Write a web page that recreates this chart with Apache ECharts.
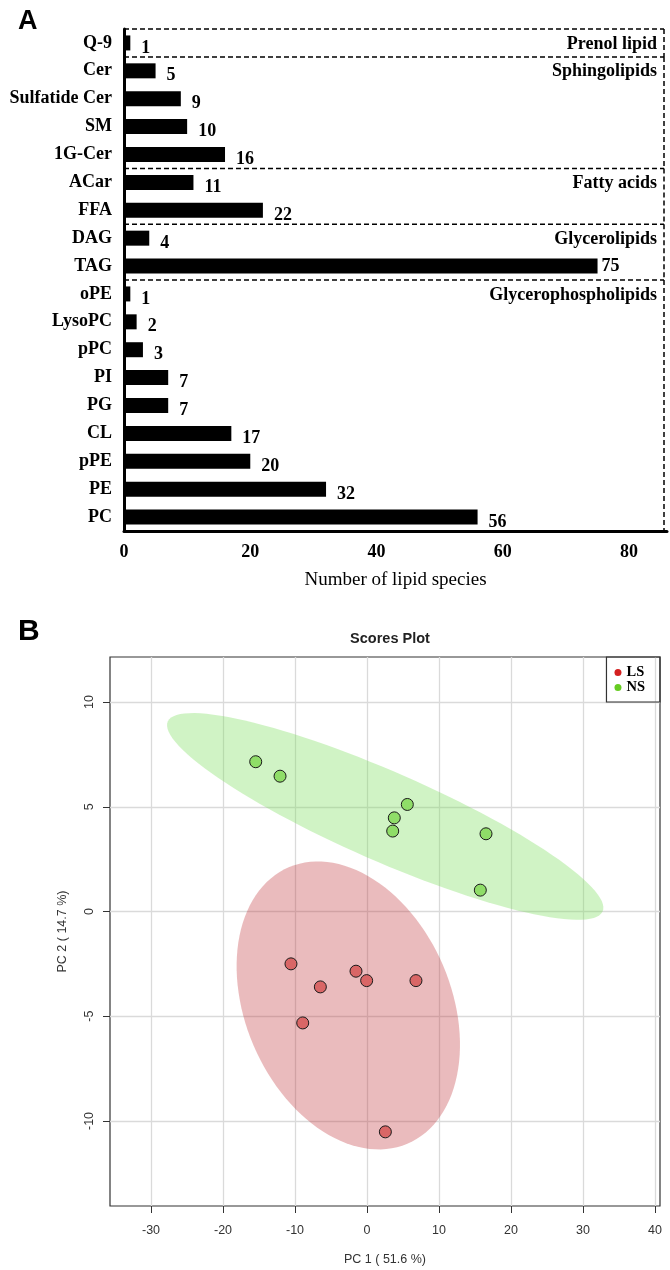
<!DOCTYPE html>
<html><head><meta charset="utf-8">
<script src="https://cdn.jsdelivr.net/npm/echarts@6/dist/echarts.min.js"></script>
<style>html,body{margin:0;padding:0;background:#fff}#c{width:670px;height:1270px}</style>
</head><body><div id="c"></div>
<script>
// ---------- Panel A data ----------
const categories = ['Q-9','Cer','Sulfatide Cer','SM','1G-Cer','ACar','FFA','DAG','TAG','oPE','LysoPC','pPC','PI','PG','CL','pPE','PE','PC'];
const speciesCounts = [1,5,9,10,16,11,22,4,75,1,2,3,7,7,17,20,32,56];
const groupNames = ['Prenol lipid','Sphingolipids','Fatty acids','Glycerolipids','Glycerophospholipids'];
const groupSizes = [1,4,2,2,9];
const countTicks = [0,20,40,60,80];

// ---------- Panel B data ----------
const lsPC1 = [-10.56,-6.48,-8.93,-1.53,-0.05,6.80,2.55];
const lsPC2 = [-2.50,-3.60,-5.32,-2.85,-3.30,-3.30,-10.52];
const nsPC1 = [-15.46,-12.08,5.60,3.79,3.57,16.53,15.74];
const nsPC2 = [7.15,6.46,5.11,4.47,3.84,3.71,1.02];
const pc1Ticks = [-30,-20,-10,0,10,20,30,40];
const pc2Ticks = [-10,-5,0,5,10];

const SERIF = '"Liberation Serif", "Times New Roman", serif';
const SANS = '"Liberation Sans", Arial, sans-serif';

// group start/end indices
const groups = [];
let acc = 0;
groupNames.forEach((g, i) => { groups.push({name: g, start: acc, end: acc + groupSizes[i] - 1}); acc += groupSizes[i]; });

// 95% confidence ellipse from data (as in ellipse::ellipse)
function ellipsePoints(xs, ys, level, n) {
  const m = xs.length;
  const mx = xs.reduce((a, b) => a + b, 0) / m;
  const my = ys.reduce((a, b) => a + b, 0) / m;
  let sxx = 0, syy = 0, sxy = 0;
  for (let i = 0; i < m; i++) { const dx = xs[i] - mx, dy = ys[i] - my; sxx += dx * dx; syy += dy * dy; sxy += dx * dy; }
  sxx /= (m - 1); syy /= (m - 1); sxy /= (m - 1);
  const sx = Math.sqrt(sxx), sy = Math.sqrt(syy), r = sxy / (sx * sy);
  const t = Math.sqrt(-2 * Math.log(1 - level));
  const d = Math.acos(r);
  const pts = [];
  for (let k = 0; k < n; k++) {
    const a = 2 * Math.PI * k / n;
    pts.push([mx + t * sx * Math.cos(a + d / 2), my + t * sy * Math.cos(a - d / 2)]);
  }
  return {pts, mx, my};
}
const lsEll = ellipsePoints(lsPC1, lsPC2, 0.95, 120);
const nsEll = ellipsePoints(nsPC1, nsPC2, 0.95, 120);

function ellipseSeries(name, ell, fill) {
  return {
    type: 'custom', name: name, xAxisIndex: 1, yAxisIndex: 1, z: 1, silent: true, clip: false,
    data: [[ell.mx, ell.my]],
    renderItem: function (params, api) {
      return {type: 'polygon', shape: {points: ell.pts.map(p => api.coord(p))}, style: {fill: fill}};
    }
  };
}

const barData = speciesCounts.map((v, i) => categories[i] === 'TAG'
  ? {value: v, label: {distance: 4, offset: [0, 0]}} : v);

const option = {
  animation: false,
  backgroundColor: '#fff',
  title: [
    {text: 'A', left: 13, top: 3, textStyle: {fontFamily: SANS, fontWeight: 'bold', fontSize: 27, color: '#000'}},
    {text: 'B', left: 13, top: 612, textStyle: {fontFamily: SANS, fontWeight: 'bold', fontSize: 30, color: '#000'}},
    {text: 'Scores Plot', left: 385, top: 626, textAlign: 'center', textStyle: {fontFamily: SANS, fontWeight: 'bold', fontSize: 14.5, color: '#222'}}
  ],
  legend: {
    show: true, orient: 'vertical', right: 10, top: 657,
    borderColor: '#333', borderWidth: 1.2, padding: [8, 15, 7, 8],
    itemWidth: 7, itemHeight: 7, itemGap: 0, icon: 'circle',
    textStyle: {fontFamily: SERIF, fontWeight: 'bold', fontSize: 14.5, color: '#000'},
    data: [
      {name: 'LS', itemStyle: {color: '#d42020', borderWidth: 0}},
      {name: 'NS', itemStyle: {color: '#66cc22', borderWidth: 0}}
    ]
  },
  grid: [
    {left: 124, top: 29, width: 544, height: 502},
    {left: 110, top: 657, width: 550, height: 549, show: true, borderColor: '#333', borderWidth: 1.2, backgroundColor: 'transparent'}
  ],
  xAxis: [
    {
      gridIndex: 0, type: 'value', min: 0, max: 86, interval: 20,
      axisLine: {show: true, onZero: false, lineStyle: {color: '#000', width: 3}},
      axisTick: {show: false}, splitLine: {show: false},
      axisLabel: {
        margin: 12, color: '#000', fontFamily: SERIF, fontWeight: 'bold', fontSize: 18,
        formatter: v => countTicks.indexOf(v) >= 0 ? String(v) : ''
      },
      name: 'Number of lipid species', nameLocation: 'middle', nameGap: 40,
      nameTextStyle: {fontFamily: SERIF, fontSize: 19, color: '#000'}
    },
    {
      gridIndex: 1, type: 'value', min: -35.7, max: 40.7, splitNumber: 8,
      axisLine: {show: false, onZero: false},
      axisTick: {show: true, length: 7, customValues: pc1Ticks, lineStyle: {color: '#333'}},
      splitLine: {show: true, lineStyle: {color: '#dadada', width: 1.3}},
      axisLabel: {
        customValues: pc1Ticks, margin: 18, color: '#333', fontFamily: SANS, fontSize: 12.5,
        formatter: v => pc1Ticks.indexOf(v) >= 0 ? String(v) : ''
      },
      name: 'PC 1 ( 51.6 %)', nameLocation: 'middle', nameGap: 47,
      nameTextStyle: {fontFamily: SANS, fontSize: 12.5, color: '#333'}
    }
  ],
  yAxis: [
    {
      gridIndex: 0, type: 'category', inverse: true, data: categories,
      axisLine: {show: true, onZero: false, lineStyle: {color: '#000', width: 3}},
      axisTick: {show: false},
      axisLabel: {margin: 12, color: '#000', fontFamily: SERIF, fontWeight: 'bold', fontSize: 18}
    },
    {
      gridIndex: 1, type: 'value', min: -14.06, max: 12.15, splitNumber: 5,
      axisLine: {show: false, onZero: false},
      axisTick: {show: true, length: 7, customValues: pc2Ticks, lineStyle: {color: '#333'}},
      splitLine: {show: true, lineStyle: {color: '#dadada', width: 1.3}},
      axisLabel: {
        customValues: pc2Ticks, rotate: 90, margin: 14, color: '#333', fontFamily: SANS, fontSize: 12.5,
        formatter: v => pc2Ticks.indexOf(v) >= 0 ? String(v) : ''
      },
      name: 'PC 2 ( 14.7 %)', nameLocation: 'middle', nameGap: 41,
      nameTextStyle: {fontFamily: SANS, fontSize: 12.5, color: '#333'}
    }
  ],
  series: [
    {
      type: 'bar', name: 'count', xAxisIndex: 0, yAxisIndex: 0, barWidth: 15,
      itemStyle: {color: '#000'},
      label: {show: true, position: 'right', distance: 11, offset: [0, 5], color: '#000',
              fontFamily: SERIF, fontWeight: 'bold', fontSize: 18},
      data: barData
    },
    {
      type: 'custom', name: 'groups', xAxisIndex: 0, yAxisIndex: 0, silent: true, clip: false, z: 3,
      data: groups.map(g => [0, g.start]),
      renderItem: function (params, api) {
        const g = groups[params.dataIndex];
        const cs = params.coordSys;
        const band = api.size([0, 1])[1];
        const left = cs.x;
        const right = cs.x + cs.width - 3;
        const top = api.coord([0, g.start])[1] - band / 2;
        const bottom = api.coord([0, g.end])[1] + band / 2;
        const labelY = api.coord([0, g.start])[1] + 1;
        const dash = {stroke: '#000', lineWidth: 1.5, lineDash: [5, 3], fill: null};
        return {
          type: 'group',
          children: [
            {type: 'line', shape: {x1: left, y1: top, x2: right, y2: top}, style: dash},
            {type: 'line', shape: {x1: right, y1: top, x2: right, y2: bottom}, style: dash},
            {type: 'text', style: {text: g.name, x: right - 7, y: labelY, textAlign: 'right', textVerticalAlign: 'middle',
              font: 'bold 18px ' + SERIF, fill: '#000'}}
          ]
        };
      }
    },
    ellipseSeries('LS ellipse', lsEll, 'rgba(190,50,55,0.33)'),
    ellipseSeries('NS ellipse', nsEll, 'rgba(120,220,90,0.35)'),
    {
      type: 'scatter', name: 'LS', xAxisIndex: 1, yAxisIndex: 1, z: 3, symbolSize: 12,
      itemStyle: {color: '#d96666', borderColor: '#1a1a1a', borderWidth: 1, opacity: 1},
      data: lsPC1.map((x, i) => [x, lsPC2[i]])
    },
    {
      type: 'scatter', name: 'NS', xAxisIndex: 1, yAxisIndex: 1, z: 3, symbolSize: 12,
      itemStyle: {color: '#8fdd68', borderColor: '#1a1a1a', borderWidth: 1, opacity: 1},
      data: nsPC1.map((x, i) => [x, nsPC2[i]])
    }
  ]
};
const chart = echarts.init(document.getElementById('c'), null, {renderer: 'canvas', width: 670, height: 1270});
chart.setOption(option);
</script>
</body></html>
